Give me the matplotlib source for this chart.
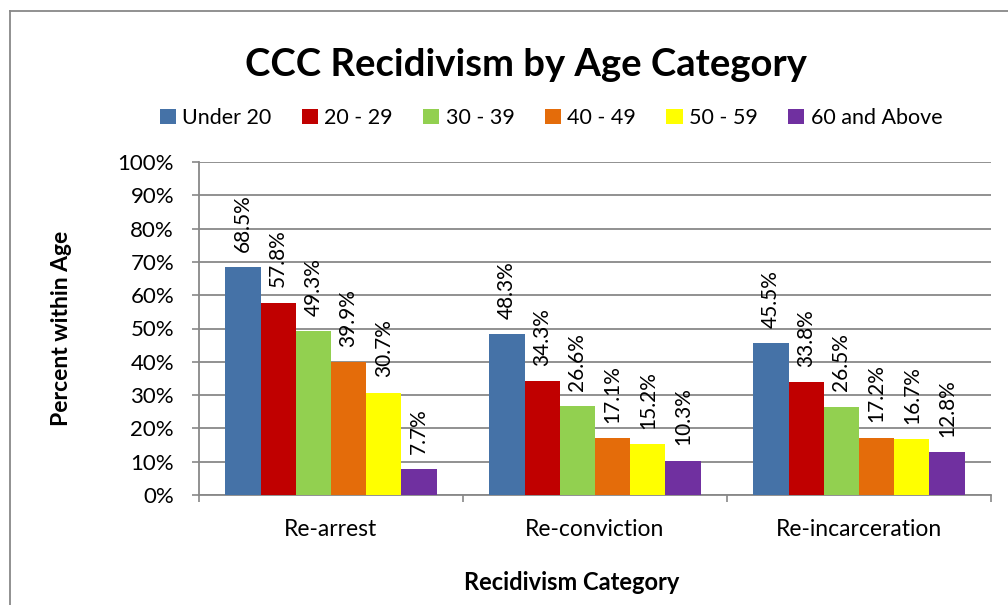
import matplotlib.pyplot as plt
import numpy as np
from matplotlib.lines import Line2D

plt.rcParams['font.family'] = ['Lato', 'DejaVu Sans']

categories = ["Re-arrest", "Re-conviction", "Re-incarceration"]
age_groups = ["Under 20", "20 - 29", "30 - 39", "40 - 49", "50 - 59", "60 and Above"]
under_20 = [68.5, 48.3, 45.5]
age_20_29 = [57.8, 34.3, 33.8]
age_30_39 = [49.3, 26.6, 26.5]
age_40_49 = [39.9, 17.1, 17.2]
age_50_59 = [30.7, 15.2, 16.7]
age_60_up = [7.7, 10.3, 12.8]
colors = ["#4572A7", "#C00000", "#92D050", "#E46C0A", "#FFFF00", "#7030A0"]

series = [under_20, age_20_29, age_30_39, age_40_49, age_50_59, age_60_up]

fig = plt.figure(figsize=(10.08, 6.05), dpi=100)
ax = fig.add_axes([199 / 1008, 1 - 495 / 605, (991 - 199) / 1008, (495 - 162) / 605])

x = np.arange(len(categories))
width = 0.8 / len(series)
for i, (vals, name, col) in enumerate(zip(series, age_groups, colors)):
    pos = x - 0.4 + width * (i + 0.5)
    bars = ax.bar(pos, vals, width, color=col, label=name, zorder=3)
    for b, v in zip(bars, vals):
        ax.annotate(f"{v:.1f}%", (b.get_x() + b.get_width() / 2, v),
                    xytext=(0, 11), textcoords="offset points",
                    rotation=90, ha="center", va="bottom", fontsize=15)

ax.set_xlim(-0.5, 2.5)
ax.set_ylim(0, 100)
ax.set_yticks(np.arange(0, 101, 10))
ax.set_yticklabels([f"{t}%" for t in range(0, 101, 10)], fontsize=16)
ax.set_xticks(x)
ax.set_xticklabels(categories, fontsize=16.5)
ax.set_xticks([-0.5, 0.5, 1.5, 2.5], minor=True)
ax.tick_params(axis="x", which="major", length=0, pad=17)
ax.tick_params(axis="x", which="minor", length=5, color="#888888", width=1.2)
ax.tick_params(axis="y", length=5, color="#888888", width=1.2, pad=13)
ax.grid(axis="y", color="#888888", linewidth=1.3, zorder=0)
for s in ["top", "right"]:
    ax.spines[s].set_visible(False)
for s in ["left", "bottom"]:
    ax.spines[s].set_color("#888888")
    ax.spines[s].set_linewidth(1.3)

ax.set_ylabel("Percent within Age", fontsize=16.5, fontweight="bold")
ax.yaxis.set_label_coords((62 - 199) / (991 - 199), 0.5)
ax.set_xlabel("Recidivism Category", fontsize=17, fontweight="bold")
ax.xaxis.set_label_coords((572 - 199) / (991 - 199), (495 - 583) / (495 - 162))
ax.xaxis.label.set_va("center")
ax.yaxis.label.set_va("center")

fig.suptitle("CCC Recidivism by Age Category", fontsize=27.5, fontweight="bold",
             x=526 / 1008, y=1 - 65 / 605, va="center")
fig.legend(loc="center", bbox_to_anchor=(551 / 1008, 1 - 118 / 605), ncol=6,
           frameon=False, fontsize=15.5, handlelength=0.75, handleheight=0.75,
           handletextpad=0.3, columnspacing=1.4)

# outer chart border (only left and top visible in the crop)
fig.add_artist(Line2D([9.5 / 1008, 9.5 / 1008], [0, 1 - 11 / 605],
                      transform=fig.transFigure, color="#888888", linewidth=1.3))
fig.add_artist(Line2D([9.5 / 1008, 1], [1 - 11 / 605, 1 - 11 / 605],
                      transform=fig.transFigure, color="#888888", linewidth=1.3))

fig.savefig("out.png", dpi=100)
